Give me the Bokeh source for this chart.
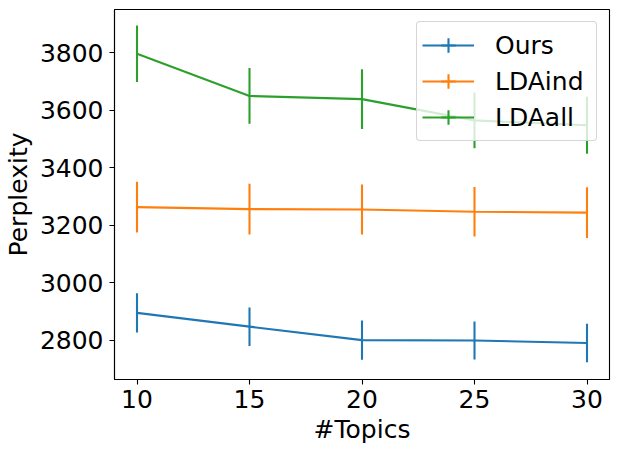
import numpy as np
from bokeh.plotting import figure
from bokeh.models import ColumnDataSource, Legend, LegendItem, FixedTicker, Range1d
from bokeh.embed import file_html
from bokeh.resources import INLINE

topics = [10, 15, 20, 25, 30]
ours_mean = [2895, 2847, 2800, 2799, 2790]
ours_err = [68, 67, 68, 66, 67]
ldaind_mean = [3263, 3256, 3255, 3247, 3244]
ldaind_err = [88, 88, 87, 86, 88]
ldaall_mean = [3797, 3650, 3639, 3565, 3548]
ldaall_err = [98, 97, 104, 97, 99]

series = [
    ("Ours", ours_mean, ours_err, "#1f77b4"),
    ("LDAind", ldaind_mean, ldaind_err, "#ff7f0e"),
    ("LDAall", ldaall_mean, ldaall_err, "#2ca02c"),
]

FONT = "DejaVu Sans"
FS = "25px"

p = figure(width=619, height=452, output_backend="svg", toolbar_location=None,
           x_range=Range1d(9, 31), y_range=Range1d(2663, 3951),
           min_border_left=113, min_border_right=10, min_border_top=9, min_border_bottom=73)

p.xgrid.visible = False
p.ygrid.visible = False
p.outline_line_color = "black"
p.outline_line_width = 1.1
p.outline_line_alpha = 1.0

items = []
for name, mean, err, color in series:
    m = np.array(mean, dtype=float)
    e = np.array(err, dtype=float)
    src = ColumnDataSource(dict(x=topics, y=mean, lo=m - e, hi=m + e))
    lr = p.line("x", "y", source=src, line_color=color, line_width=2.1)
    p.segment(x0="x", y0="lo", x1="x", y1="hi", source=src, line_color=color, line_width=2.1)
    cr = p.scatter("x", "y", source=src, marker="cross", size=20, line_color=color,
                   line_width=2.1, visible=False)
    items.append(LegendItem(label=name, renderers=[lr, cr]))

legend = Legend(items=items, location="top_right", margin=12, padding=5, spacing=0,
                glyph_width=52, glyph_height=36, label_standoff=21, label_width=96,
                label_text_font=FONT, label_text_font_size=FS,
                label_text_color="black",
                label_text_baseline="middle",
                background_fill_color="white", background_fill_alpha=0.8,
                border_line_color="#cccccc", border_line_alpha=0.8, border_line_width=1,
                border_radius=4)
p.add_layout(legend, "center")

p.xaxis.ticker = FixedTicker(ticks=topics)
p.yaxis.ticker = FixedTicker(ticks=[2800, 3000, 3200, 3400, 3600, 3800])
p.xaxis.axis_label = "#Topics"
p.yaxis.axis_label = "Perplexity"

for ax in (p.xaxis[0], p.yaxis[0]):
    ax.major_label_text_font = FONT
    ax.major_label_text_font_size = FS
    ax.major_label_text_color = "black"
    ax.axis_label_text_font = FONT
    ax.axis_label_text_font_size = FS
    ax.axis_label_text_font_style = "normal"
    ax.axis_label_text_color = "black"
    ax.major_tick_out = 5
    ax.major_tick_in = 0
    ax.minor_tick_out = 0
    ax.minor_tick_in = 0
    ax.major_tick_line_width = 1.1
    ax.axis_line_width = 1.1
    ax.axis_line_color = "black"
    ax.major_tick_line_color = "black"

p.xaxis.major_label_standoff = 5
p.xaxis.axis_label_standoff = 4
p.yaxis.major_label_standoff = 6
p.yaxis.axis_label_standoff = 4

open("out.html", "w").write(file_html(p, INLINE))
